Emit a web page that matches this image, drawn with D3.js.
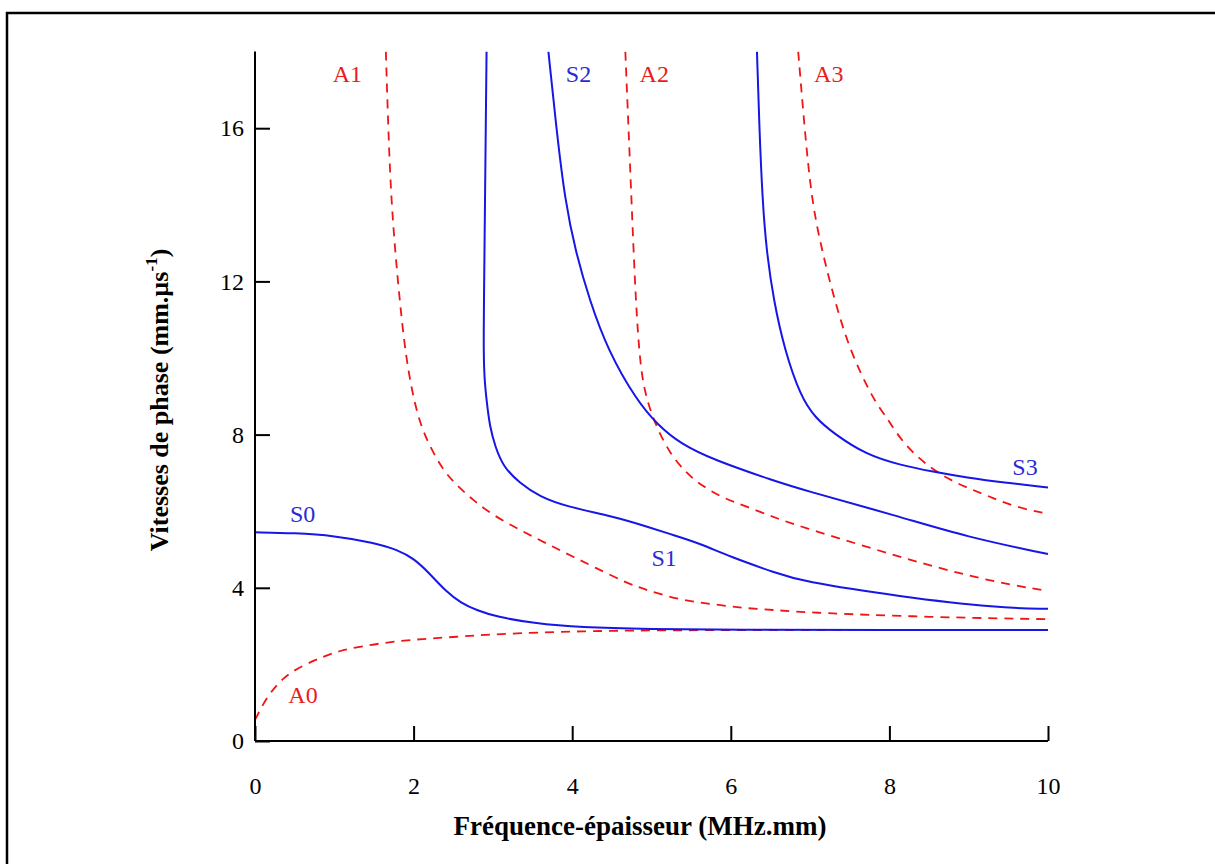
<!DOCTYPE html>
<html>
<head>
<meta charset="utf-8">
<script src="https://cdn.jsdelivr.net/npm/d3@7"></script>
<style>
  html, body { margin: 0; padding: 0; background: #fff; }
  svg { display: block; }
  text { font-family: "Liberation Serif", "Times New Roman", "DejaVu Serif", serif; }
</style>
</head>
<body>
<svg id="chart" width="1215" height="864"></svg>
<script>
// ---- data (frequency-thickness MHz.mm, phase velocity mm/µs) ----
const xTicks = [0, 2, 4, 6, 8, 10];
const yTicks = [0, 4, 8, 12, 16];

const s0 = [[0,5.45],[0.5,5.43],[1,5.36],[1.5,5.18],[1.8,4.99],[2.0,4.77],[2.2,4.38],[2.4,3.92],[2.6,3.6],[2.8,3.41],[3.05,3.24],[3.5,3.08],[4.1,2.96],[5,2.92],[6,2.9],[8,2.9],[10,2.9]];
const s1 = [[2.92,18],[2.91,16],[2.90,14],[2.89,12],[2.88,10],[2.9,9.3],[2.92,8.9],[2.96,8.21],[3.03,7.68],[3.13,7.16],[3.34,6.73],[3.59,6.38],[3.93,6.12],[4.52,5.86],[4.94,5.6],[5.27,5.38],[5.61,5.16],[5.99,4.81],[6.58,4.38],[6.87,4.18],[8.13,3.77],[9.39,3.47],[10,3.45]];
const s2 = [[3.70,18],[3.80,16],[3.91,14.1],[4.04,12.8],[4.22,11.5],[4.45,10.2],[4.81,8.9],[5.08,8.25],[5.36,7.77],[5.78,7.34],[6.58,6.77],[6.87,6.58],[8.13,5.86],[8.97,5.33],[10,4.88]];
const s3 = [[6.33,18],[6.36,16],[6.40,14.1],[6.45,12.8],[6.54,11.5],[6.68,10.2],[6.88,9.0],[7.06,8.45],[7.29,8.04],[7.71,7.47],[8.13,7.21],[8.55,7.03],[8.97,6.88],[9.48,6.74],[10,6.62]];
const a0 = [[0,0.55],[0.15,1.16],[0.36,1.68],[0.61,1.98],[0.86,2.2],[1.07,2.36],[1.32,2.46],[1.58,2.55],[1.83,2.61],[2.08,2.66],[2.54,2.72],[3.0,2.79],[4.1,2.87],[5.36,2.9],[10,2.9]];
const a1 = [[1.65,18],[1.68,16],[1.72,14],[1.80,12],[1.90,10],[2.02,8.73],[2.12,8.08],[2.23,7.6],[2.37,7.08],[2.54,6.68],[2.75,6.29],[3.0,5.9],[3.26,5.6],[3.51,5.33],[3.76,5.07],[4.01,4.81],[4.27,4.55],[4.69,4.12],[4.94,3.94],[5.36,3.68],[5.78,3.57],[6.2,3.46],[6.58,3.42],[6.87,3.36],[8.55,3.23],[10,3.18]];
const a2 = [[4.67,18],[4.71,16],[4.75,14],[4.80,11.5],[4.86,9.7],[4.94,8.9],[5.06,8.21],[5.23,7.51],[5.44,6.99],[5.65,6.64],[5.91,6.34],[6.2,6.12],[6.58,5.81],[6.87,5.61],[7.71,5.07],[8.55,4.55],[9.39,4.12],[10,3.92]];
const a3 = [[6.85,18],[6.93,16],[7.02,14.1],[7.15,12.8],[7.31,11.5],[7.5,10.2],[7.8,8.9],[7.96,8.47],[8.09,8.03],[8.26,7.6],[8.47,7.21],[8.72,6.86],[8.97,6.62],[9.22,6.42],[9.56,6.12],[10,5.93]];

const symNames = ["S0", "S1", "S2", "S3"];
const antiNames = ["A0", "A1", "A2", "A3"];
// label anchor points in data units
const symLabelPos = [[0.44,5.72],[5.0,4.56],[3.92,17.2],[9.55,6.95]];
const antiLabelPos = [[0.42,0.99],[0.98,17.2],[4.85,17.2],[7.05,17.2]];

// ---- drawing ----
const svg = d3.select("#chart");
const BLUE = "#1616e6", RED = "#f01414";

// outer frame
svg.append("rect").attr("x", 7).attr("y", 13).attr("width", 1230).attr("height", 900)
  .attr("fill", "none").attr("stroke", "#000").attr("stroke-width", 2.5);

const x = d3.scaleLinear().domain([0, 10]).range([255, 1048]);
const y = d3.scaleLinear().domain([0, 18]).range([741, 51.6]);

svg.append("defs").append("clipPath").attr("id", "plotclip")
  .append("rect").attr("x", x(0) - 2).attr("y", y(18)).attr("width", x(10) - x(0) + 4).attr("height", y(0) - y(18) + 2);

const line = d3.line().x(d => x(d[0])).y(d => y(d[1])).curve(d3.curveBasis);

const curves = svg.append("g").attr("clip-path", "url(#plotclip)");
[a0, a1, a2, a3].forEach(s => {
  curves.append("path").attr("d", line(s)).attr("fill", "none")
    .attr("stroke", RED).attr("stroke-width", 1.8).attr("stroke-dasharray", "9,7");
});
[s0, s1, s2, s3].forEach(s => {
  curves.append("path").attr("d", line(s)).attr("fill", "none")
    .attr("stroke", BLUE).attr("stroke-width", 2);
});

// axes
const xAxis = d3.axisBottom(x).tickValues(xTicks).tickSize(-15).tickPadding(36).tickFormat(d3.format("d"));
const yAxis = d3.axisLeft(y).tickValues(yTicks).tickSize(-15).tickPadding(11).tickFormat(d3.format("d"));

const gx = svg.append("g").attr("transform", `translate(0,${y(0)})`).call(xAxis);
const gy = svg.append("g").attr("transform", `translate(${x(0)},0)`).call(yAxis);
[gx, gy].forEach(g => {
  g.select(".domain").attr("stroke", "#000").attr("stroke-width", 2);
  g.selectAll(".tick line").attr("stroke", "#000").attr("stroke-width", 2);
  g.selectAll(".tick text").attr("fill", "#000").style("font-size", "24px")
    .style("font-family", '"Liberation Serif", "Times New Roman", serif');
});
gx.select(".domain").attr("d", `M${x(0)},0H${x(10)}`);
gy.select(".domain").attr("d", `M0,${y(0)}V${y(18)}`);

// axis titles
svg.append("text").attr("x", 640).attr("y", 835).attr("text-anchor", "middle")
  .style("font-size", "27px").style("font-weight", "bold").attr("fill", "#000")
  .text("Fréquence-épaisseur (MHz.mm)");

const yl = svg.append("text").attr("transform", "translate(168,400) rotate(-90)")
  .attr("text-anchor", "middle").style("font-size", "26px").style("font-weight", "bold").attr("fill", "#000");
yl.append("tspan").text("Vitesses de phase (mm.µs");
yl.append("tspan").attr("dy", -11).style("font-size", "17px").text("-1");
yl.append("tspan").attr("dy", 11).text(")");

// curve labels
symNames.forEach((n, i) => {
  svg.append("text").attr("x", x(symLabelPos[i][0])).attr("y", y(symLabelPos[i][1]))
    .attr("fill", "#2a2ad6").style("font-size", "24px").text(n);
});
antiNames.forEach((n, i) => {
  svg.append("text").attr("x", x(antiLabelPos[i][0])).attr("y", y(antiLabelPos[i][1]))
    .attr("fill", "#e81c1c").style("font-size", "24px").text(n);
});
</script>
</body>
</html>
